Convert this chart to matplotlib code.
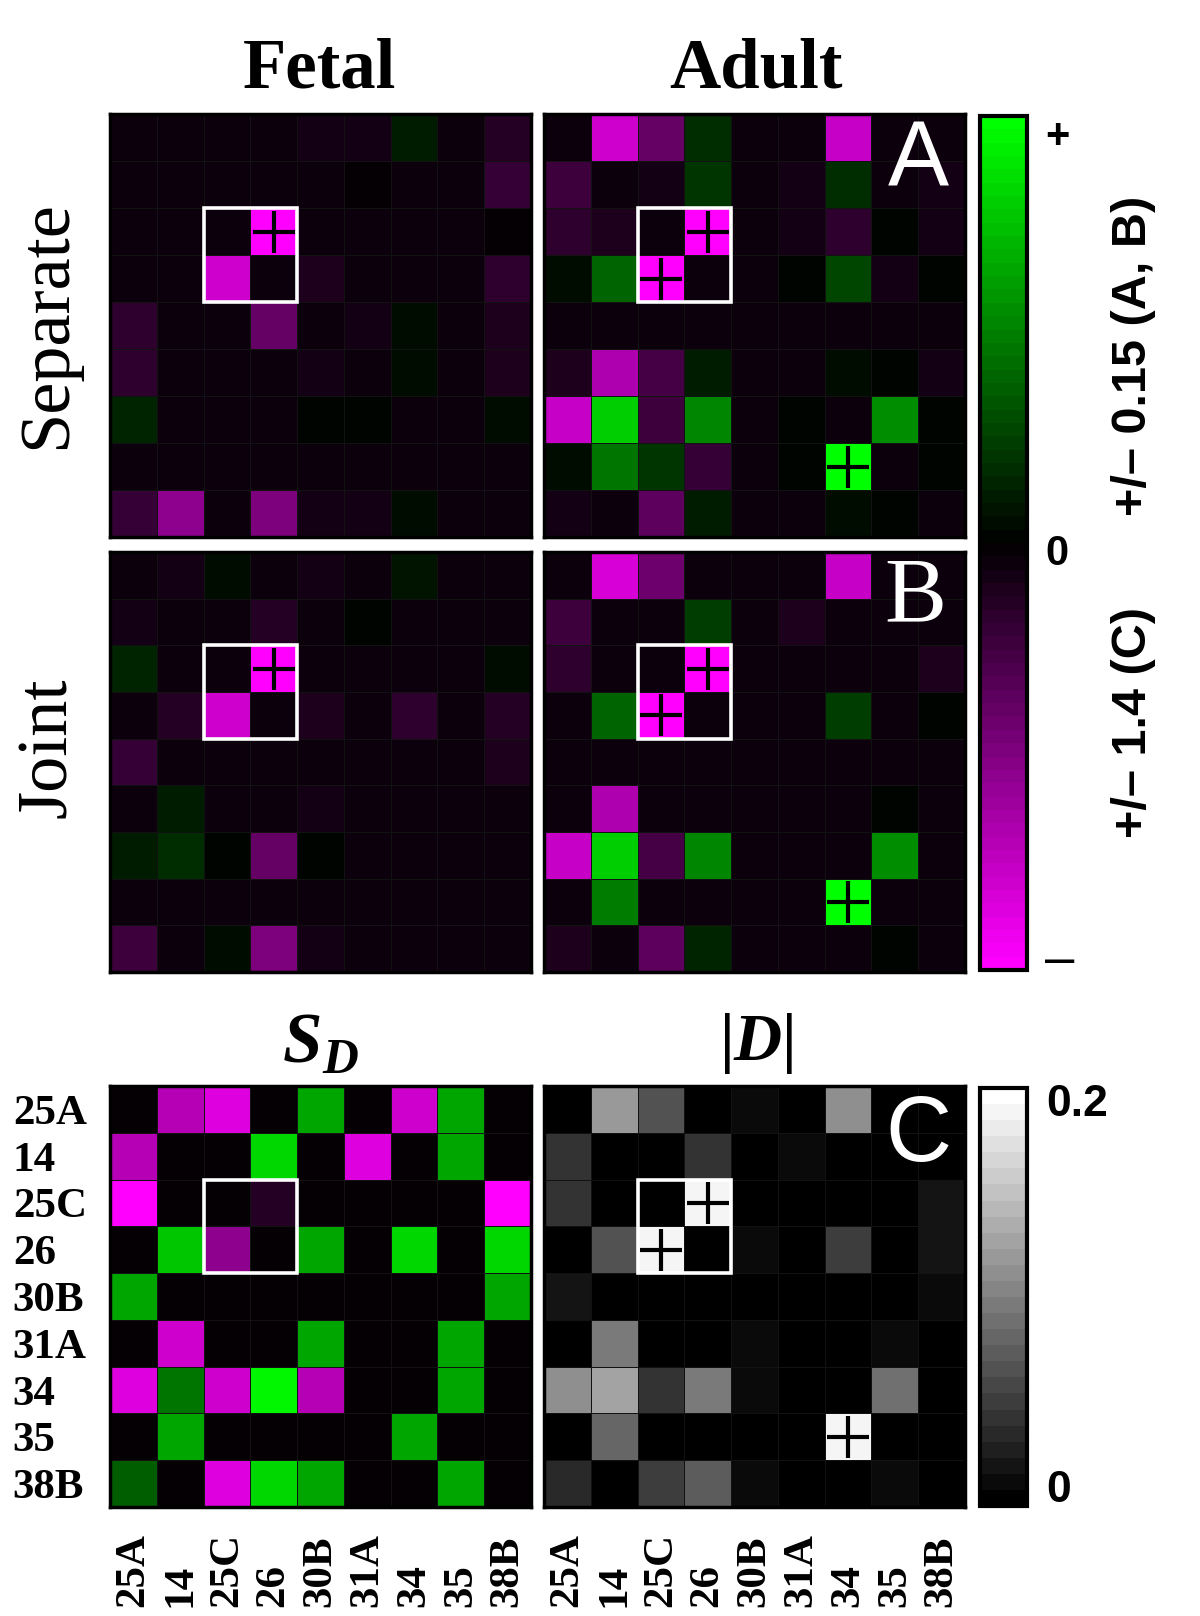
import numpy as np
import matplotlib
matplotlib.use("Agg")
import matplotlib.pyplot as plt
from matplotlib.colors import LinearSegmentedColormap, Normalize
from matplotlib.cm import ScalarMappable
from matplotlib.patches import Rectangle

plt.rcParams['mathtext.fontset'] = 'custom'
plt.rcParams['mathtext.bfit'] = 'Liberation Serif:bold:italic'
plt.rcParams['mathtext.bf'] = 'Liberation Serif:bold'
plt.rcParams['mathtext.rm'] = 'Liberation Serif'

labels = ["25A", "14", "25C", "26", "30B", "31A", "34", "35", "38B"]

# panel A: separate fit (range +/- 0.15)
fetal_sep = np.array([
    [-0.005, -0.005, -0.005, -0.005, -0.012, -0.012, 0.015, -0.005, -0.020],
    [-0.005, -0.005, -0.005, -0.005, -0.005, -0.003, -0.005, -0.005, -0.029],
    [-0.005, -0.005, -0.005, -0.150, -0.005, -0.005, -0.005, -0.005, -0.003],
    [-0.005, -0.005, -0.120, -0.005, -0.018, -0.005, -0.005, -0.005, -0.024],
    [-0.024, -0.005, -0.005, -0.057, -0.005, -0.012, 0.008, -0.005, -0.018],
    [-0.024, -0.005, -0.005, -0.005, -0.012, -0.005, 0.006, -0.005, -0.017],
    [0.020, -0.005, -0.005, -0.005, 0.000, 0.000, -0.005, -0.005, 0.009],
    [-0.005, -0.005, -0.005, -0.005, -0.005, -0.005, -0.005, -0.005, -0.005],
    [-0.032, -0.084, -0.005, -0.071, -0.012, -0.011, 0.008, -0.005, -0.005],
])
adult_sep = np.array([
    [-0.005, -0.120, -0.060, 0.024, -0.005, -0.008, -0.117, -0.005, -0.009],
    [-0.036, -0.005, -0.012, 0.030, -0.005, -0.012, 0.024, -0.005, -0.011],
    [-0.024, -0.015, -0.005, -0.150, -0.005, -0.011, -0.024, 0.000, -0.014],
    [0.009, 0.057, -0.150, -0.005, -0.005, 0.000, 0.038, -0.012, 0.000],
    [-0.005, -0.005, -0.005, -0.005, -0.005, -0.005, -0.005, -0.005, -0.005],
    [-0.015, -0.100, -0.042, 0.018, -0.005, -0.005, 0.006, 0.000, -0.011],
    [-0.117, 0.120, -0.036, 0.075, -0.005, 0.000, -0.005, 0.080, 0.000],
    [0.006, 0.066, 0.029, -0.029, -0.005, 0.000, 0.150, -0.005, 0.000],
    [-0.011, -0.005, -0.054, 0.018, -0.005, -0.009, 0.008, 0.000, -0.005],
])

# panel B: joint fit (range +/- 0.15)
fetal_joint = np.array([
    [-0.005, -0.011, 0.009, -0.005, -0.011, -0.005, 0.012, -0.005, -0.005],
    [-0.011, -0.005, -0.005, -0.020, -0.005, 0.000, -0.005, -0.005, -0.005],
    [0.020, -0.005, -0.005, -0.150, -0.005, -0.005, -0.005, -0.005, 0.008],
    [-0.005, -0.020, -0.120, -0.005, -0.018, -0.005, -0.026, -0.005, -0.020],
    [-0.030, -0.005, -0.005, -0.005, -0.005, -0.005, -0.005, -0.005, -0.015],
    [-0.005, 0.015, -0.005, -0.005, -0.012, -0.005, -0.005, -0.005, -0.005],
    [0.018, 0.026, 0.000, -0.057, 0.000, -0.005, -0.005, -0.005, -0.005],
    [-0.005, -0.005, -0.005, -0.005, -0.005, -0.005, -0.005, -0.005, -0.005],
    [-0.035, -0.005, 0.008, -0.071, -0.012, -0.005, -0.005, -0.005, -0.005],
])
adult_joint = np.array([
    [-0.005, -0.123, -0.062, -0.005, -0.005, -0.005, -0.116, -0.005, -0.005],
    [-0.035, -0.005, -0.005, 0.035, -0.005, -0.018, -0.005, -0.005, -0.005],
    [-0.026, -0.005, -0.005, -0.150, -0.005, -0.005, -0.005, -0.005, -0.018],
    [-0.005, 0.060, -0.150, -0.005, -0.005, -0.005, 0.035, -0.005, 0.000],
    [-0.005, -0.005, -0.005, -0.005, -0.005, -0.005, -0.005, -0.005, -0.005],
    [-0.005, -0.100, -0.005, -0.005, -0.005, -0.005, -0.005, 0.000, -0.005],
    [-0.116, 0.120, -0.039, 0.075, -0.005, -0.005, -0.005, 0.080, -0.005],
    [-0.005, 0.071, -0.005, -0.005, -0.005, -0.005, 0.150, -0.005, -0.005],
    [-0.018, -0.005, -0.053, 0.021, -0.005, -0.005, -0.005, 0.000, -0.005],
])

# panel C: S_D (range +/- 1.4) and |D| (0 - 0.2)
s_d = np.array([
    [-0.04, -0.98, -1.20, -0.04, 0.88, -0.04, -1.12, 0.88, -0.04],
    [-0.98, -0.04, -0.04, 1.15, -0.04, -1.20, -0.04, 0.88, -0.04],
    [-1.40, -0.04, -0.04, -0.21, -0.04, -0.04, -0.04, -0.04, -1.40],
    [-0.04, 1.05, -0.78, -0.04, 0.88, -0.04, 1.15, -0.04, 1.15],
    [0.88, -0.04, -0.04, -0.04, -0.04, -0.04, -0.04, -0.04, 0.88],
    [-0.04, -1.12, -0.04, -0.04, 0.88, -0.04, -0.04, 0.88, -0.04],
    [-1.20, 0.62, -1.12, 1.32, -0.98, -0.04, -0.04, 0.88, -0.04],
    [-0.04, 0.88, -0.04, -0.04, -0.04, -0.04, 0.88, -0.04, -0.04],
    [0.50, -0.04, -1.20, 1.15, 0.91, -0.04, -0.04, 0.88, -0.04],
])
abs_d = np.array([
    [0.000, 0.120, 0.062, 0.000, 0.008, 0.000, 0.112, 0.006, 0.000],
    [0.040, 0.000, 0.000, 0.040, 0.000, 0.014, 0.000, 0.006, 0.000],
    [0.040, 0.000, 0.000, 0.192, 0.000, 0.000, 0.000, 0.000, 0.018],
    [0.000, 0.066, 0.192, 0.000, 0.008, 0.000, 0.048, 0.000, 0.022],
    [0.022, 0.000, 0.000, 0.000, 0.000, 0.000, 0.000, 0.000, 0.008],
    [0.000, 0.096, 0.000, 0.000, 0.008, 0.000, 0.000, 0.008, 0.000],
    [0.108, 0.126, 0.040, 0.096, 0.008, 0.000, 0.000, 0.088, 0.000],
    [0.000, 0.080, 0.000, 0.000, 0.000, 0.000, 0.192, 0.000, 0.000],
    [0.032, 0.000, 0.050, 0.070, 0.008, 0.000, 0.000, 0.008, 0.000],
])

# cells flagged with "+" (row, col)
marks_fetal = [(2, 3)]
marks_adult = [(2, 3), (3, 2), (7, 6)]
marks_sd = []

pg = LinearSegmentedColormap.from_list("pg", ["#ff00ff", "#000000", "#00ff00"], N=64)
gray = plt.get_cmap("gray").resampled(26)

W, H = 1200, 1616
fig = plt.figure(figsize=(12, 16.16), dpi=100)


def box(x0, y0, x1, y1):
    # pixel box (top-left origin) -> figure fraction rect
    return [x0 / W, 1 - y1 / H, (x1 - x0) / W, (y1 - y0) / H]


def heat(rect, data, cmap, vmin, vmax, marks):
    ax = fig.add_axes(rect)
    ax.pcolormesh(data, cmap=cmap, vmin=vmin, vmax=vmax,
                  edgecolors="#121212", linewidth=0.4)
    ax.set_xlim(0, 9)
    ax.set_ylim(9, 0)
    ax.set_xticks([])
    ax.set_yticks([])
    for s in ax.spines.values():
        s.set_linewidth(2.5)
    ax.add_patch(Rectangle((2, 2), 2, 2, fill=False, ec="white", lw=2.6, zorder=3))
    for r, c in marks:
        ax.plot(c + 0.5, r + 0.5, marker="+", ms=30, mew=3, color="black", zorder=4)
    return ax


cols = [(110, 531), (544, 965)]
rows = [(114, 537), (552, 972), (1086, 1507)]

heat(box(cols[0][0], rows[0][0], cols[0][1], rows[0][1]), fetal_sep, pg, -0.15, 0.15, marks_fetal)
heat(box(cols[1][0], rows[0][0], cols[1][1], rows[0][1]), adult_sep, pg, -0.15, 0.15, marks_adult)
heat(box(cols[0][0], rows[1][0], cols[0][1], rows[1][1]), fetal_joint, pg, -0.15, 0.15, marks_fetal)
heat(box(cols[1][0], rows[1][0], cols[1][1], rows[1][1]), adult_joint, pg, -0.15, 0.15, marks_adult)
ax_sd = heat(box(cols[0][0], rows[2][0], cols[0][1], rows[2][1]), s_d, pg, -1.4, 1.4, marks_sd)
ax_d = heat(box(cols[1][0], rows[2][0], cols[1][1], rows[2][1]), abs_d, gray, 0, 0.2, marks_adult)

lab_font = dict(family="Liberation Serif", fontweight="bold", fontsize=31)
ax_sd.set_yticks(np.arange(9) + 0.5)
ax_sd.set_yticklabels(labels, ha="left", **lab_font)
ax_sd.tick_params(axis="y", length=0, pad=70)
for ax in (ax_sd, ax_d):
    ax.set_xticks(np.arange(9) + 0.5)
    ax.set_xticklabels(labels, rotation=90, va="bottom", **lab_font)
    ax.tick_params(axis="x", length=0, pad=72)

# colorbars
cax1 = fig.add_axes(box(980, 116, 1027, 970))
cb1 = fig.colorbar(ScalarMappable(Normalize(-0.15, 0.15), pg), cax=cax1)
cb1.set_ticks([])
cb1.outline.set_linewidth(3)
cax2 = fig.add_axes(box(980, 1088, 1027, 1506))
cb2 = fig.colorbar(ScalarMappable(Normalize(0, 0.2), gray), cax=cax2)
cb2.set_ticks([])
cb2.outline.set_linewidth(3)


def fx(x):
    return x / W


def fy(y):
    return 1 - y / H


sans = dict(family="Liberation Sans", fontweight="bold")
fig.text(fx(1057), fy(137), "+", ha="center", va="center", fontsize=30, **sans)
fig.text(fx(1057), fy(554), "0", ha="center", va="center", fontsize=30, **sans)
fig.text(fx(1060), fy(961), "\u2013", ha="center", va="center", fontsize=38,
         family="Liberation Sans")
fig.text(fx(1134), fy(356), "+/\u2013 0.15 (A, B)", rotation=90, ha="center", va="center", fontsize=35, **sans)
fig.text(fx(1134), fy(722), "+/\u2013 1.4 (C)", rotation=90, ha="center", va="center", fontsize=35, **sans)
fig.text(fx(1046), fy(1105), "0.2", ha="left", va="center", fontsize=32, **sans)
fig.text(fx(1046), fy(1490), "0", ha="left", va="center", fontsize=32, **sans)

# titles and row names
serif_b = dict(family="Liberation Serif", fontweight="bold", fontsize=51)
fig.text(fx(320), fy(88), "Fetal", ha="center", va="baseline", **serif_b)
fig.text(fx(756), fy(88), "Adult", ha="center", va="baseline", **serif_b)
fig.text(fx(320), fy(1062), r"$\mathbfit{S}_{\mathbfit{D}}$", ha="center", va="baseline", fontsize=51)
fig.text(fx(756), fy(1060), r"$\mathbf{|}\mathbfit{D}\mathbf{|}$", ha="center", va="baseline", fontsize=48)
fig.text(fx(48), fy(325), "Separate", rotation=90, ha="center", va="center",
         family="Liberation Serif", fontsize=52)
fig.text(fx(48), fy(748), "Joint", rotation=90, ha="center", va="center",
         family="Liberation Serif", fontsize=52)

# panel letters
fig.text(fx(918), fy(163), "A", ha="center", va="center", color="white",
         family="Liberation Sans", fontsize=66)
fig.text(fx(915), fy(599), "B", ha="center", va="center", color="white",
         family="Liberation Serif", fontsize=67)
fig.text(fx(918), fy(1137), "C", ha="center", va="center", color="white",
         family="Liberation Sans", fontsize=66)

fig.savefig("out.png", dpi=100)
